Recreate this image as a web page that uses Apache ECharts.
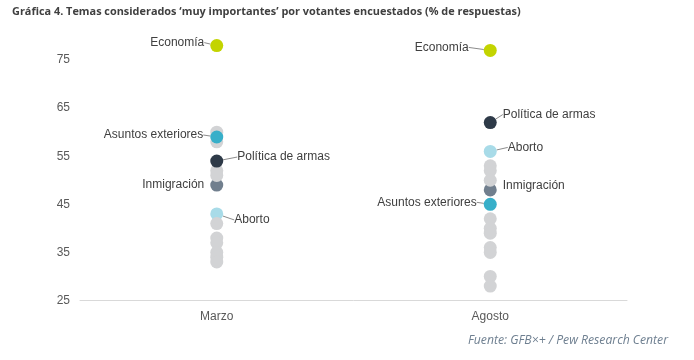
<!DOCTYPE html>
<html>
<head>
<meta charset="utf-8">
<script src="https://cdn.jsdelivr.net/npm/echarts@6/dist/echarts.min.js"></script>
<style>
  html, body { margin: 0; padding: 0; background: #ffffff; }
  #chart { width: 694px; height: 360px; }
</style>
</head>
<body>
<div id="chart"></div>
<script>
// ---- data ----
var categories = ['Marzo', 'Agosto'];
var yTicks = [25, 35, 45, 55, 65, 75];
var economia = [78, 77];
var asuntosExteriores = [59, 45];
var politicaArmas = [54, 62];
var inmigracion = [49, 48];
var aborto = [43, 56];
var otrosMarzo = [60, 58, 52, 51, 41, 38, 37, 35, 34, 33];
var otrosAgosto = [53, 52, 50, 42, 40, 39, 36, 35, 30, 28];

function pairs(values) {
  return values.map(function (v, i) { return [categories[i], v]; });
}
var otros = otrosMarzo.map(function (v) { return [categories[0], v]; })
  .concat(otrosAgosto.map(function (v) { return [categories[1], v]; }));

var labelFont = { fontFamily: 'Liberation Sans, Arial, sans-serif', fontSize: 12, color: '#404040' };
var lineStyle = { color: '#8c8c8c', width: 1 };

function lbl(pos, dist) {
  return Object.assign({ show: true, position: pos, distance: dist, formatter: '{a}' }, labelFont);
}

var chart = echarts.init(document.getElementById('chart'), null, { renderer: 'canvas' });
chart.setOption({
  animation: false,
  backgroundColor: '#ffffff',
  title: [{
    text: 'Gráfica 4. Temas considerados ‘muy importantes’ por votantes encuestados (% de respuestas)',
    left: 7, top: 1,
    textStyle: { fontFamily: 'Open Sans', fontWeight: 'bold', fontSize: 10.9, color: '#404040' }
  }, {
    text: 'Fuente: GFB×+ / Pew Research Center',
    right: 21, top: 330,
    textStyle: { fontFamily: 'Open Sans', fontStyle: 'italic', fontWeight: 'normal', fontSize: 12.2, color: '#6e7f90' }
  }],
  grid: { left: 80, right: 67, top: 36, bottom: 59.5 },
  xAxis: {
    type: 'category',
    data: categories,
    boundaryGap: true,
    axisLine: { show: true, lineStyle: { color: '#d9d9d9', width: 1 } },
    axisTick: { show: false },
    axisLabel: { margin: 10, fontFamily: 'Liberation Sans, Arial', fontSize: 12, color: '#595959' },
    splitLine: { show: false }
  },
  yAxis: {
    type: 'value',
    min: yTicks[0],
    max: 80,
    interval: 10,
    axisLine: { show: false },
    axisTick: { show: false },
    splitLine: { show: false },
    axisLabel: {
      margin: 10, fontFamily: 'Liberation Sans, Arial', fontSize: 12, color: '#595959',
      showMaxLabel: false,
      formatter: function (v) { return yTicks.indexOf(v) >= 0 ? String(v) : ''; }
    }
  },
  series: [
    {
      name: 'Inmigración', type: 'scatter', symbolSize: 13, z: 2,
      itemStyle: { color: '#717f8e', opacity: 1 },
      data: pairs(inmigracion),
      label: lbl('left', 6),
      labelLayout: function (p) { return p.dataIndex === 1 ? { x: p.rect.x + 19, y: p.rect.y - 4, align: 'left' } : {}; },
      labelLine: { show: false }
    },
    {
      name: 'Aborto', type: 'scatter', symbolSize: 13, z: 2,
      itemStyle: { color: '#a8dbe8', opacity: 1 },
      data: pairs(aborto),
      label: lbl('right', 11),
      labelLayout: function (p) { return { dy: p.dataIndex === 0 ? 6 : -4 }; },
      labelLine: { show: true, lineStyle: lineStyle }
    },
    {
      name: 'Otros', type: 'scatter', symbolSize: 13, z: 3,
      itemStyle: { color: '#d2d3d5', opacity: 1 },
      data: otros
    },
    {
      name: 'Asuntos exteriores', type: 'scatter', symbolSize: 13, z: 4,
      itemStyle: { color: '#37afc9', opacity: 1 },
      data: pairs(asuntosExteriores),
      label: lbl('left', 7),
      labelLayout: { dy: -2 },
      labelLine: { show: true, lineStyle: lineStyle }
    },
    {
      name: 'Política de armas', type: 'scatter', symbolSize: 13, z: 4,
      itemStyle: { color: '#2e3a48', opacity: 1 },
      data: pairs(politicaArmas),
      label: lbl('right', 12),
      labelLayout: function (p) { return p.dataIndex === 0 ? { dx: 2, dy: -4 } : { dx: -6, dy: -8 }; },
      labelLine: { show: true, lineStyle: lineStyle }
    },
    {
      name: 'Economía', type: 'scatter', symbolSize: 13, z: 4,
      itemStyle: { color: '#c3d400', opacity: 1 },
      data: pairs(economia),
      label: lbl('left', 6),
      labelLayout: function (p) { return p.dataIndex === 0 ? { dy: -3 } : { dx: -9, dy: -3 }; },
      labelLine: { show: true, lineStyle: lineStyle }
    }
  ]
});
</script>
</body>
</html>
